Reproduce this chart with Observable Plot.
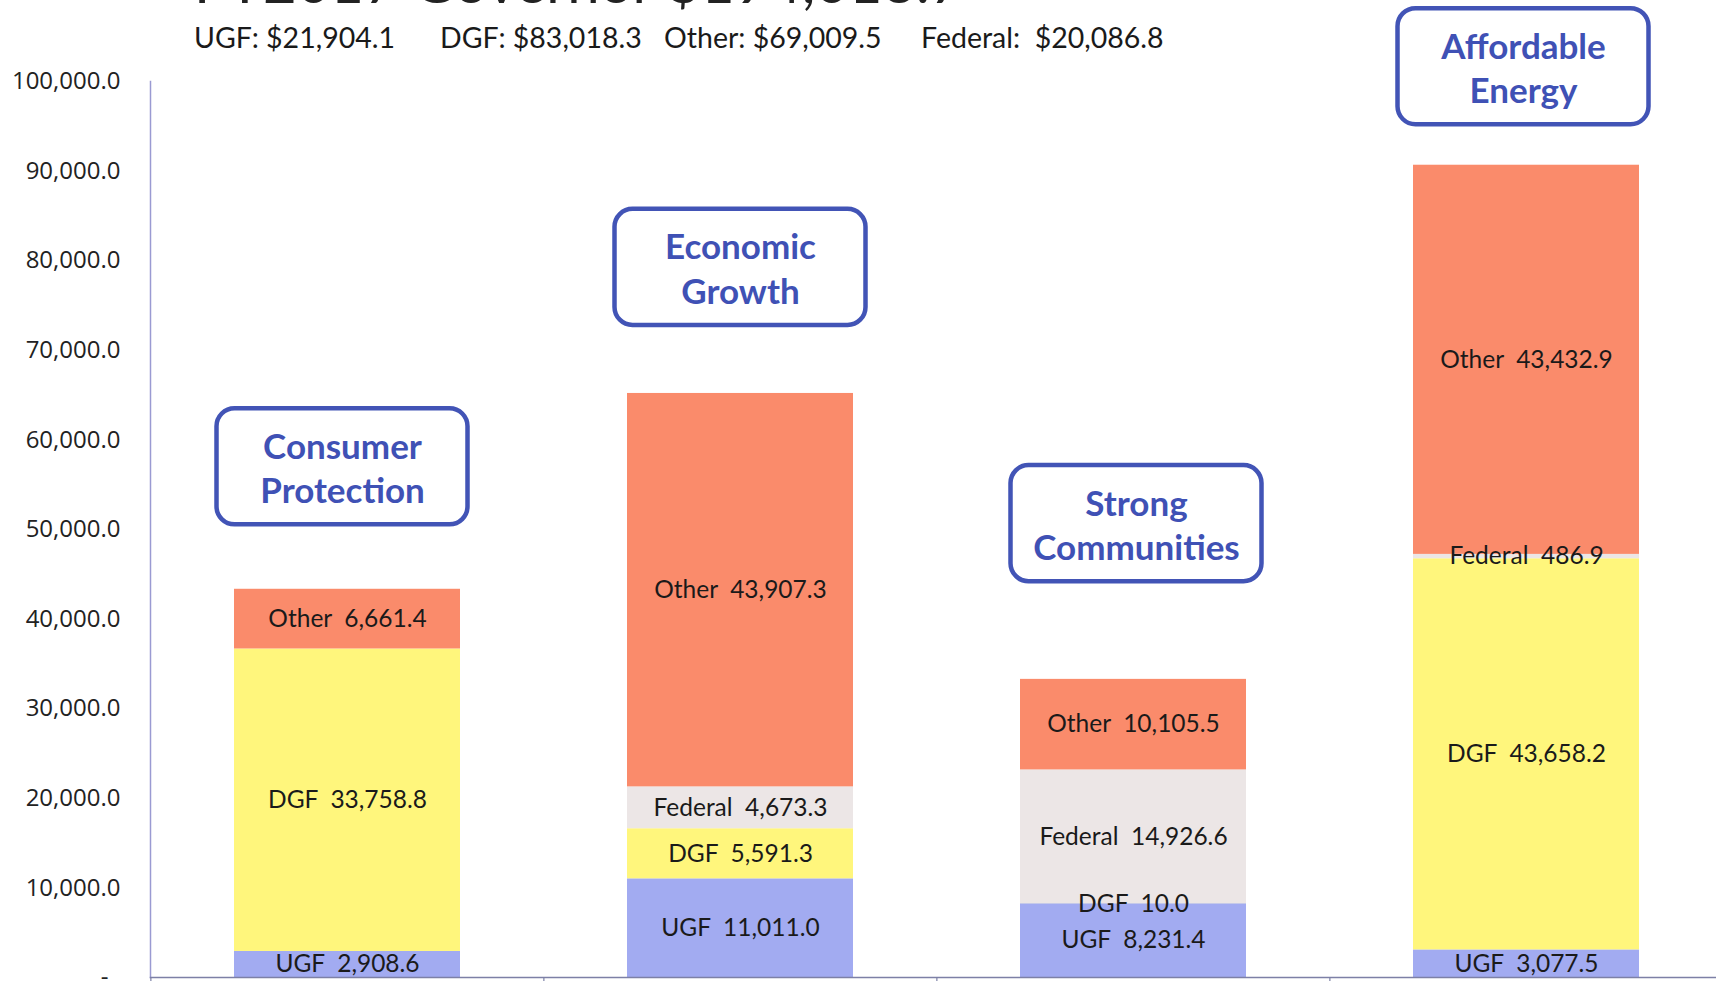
<!DOCTYPE html>
<html>
<head>
<meta charset="utf-8">
<script src="https://cdn.jsdelivr.net/npm/d3@7"></script>
<script src="https://cdn.jsdelivr.net/npm/@observablehq/plot@0.6"></script>
<style>
  html, body { margin: 0; padding: 0; background: #fff; overflow: hidden; }
  #wrap { position: relative; width: 1716px; height: 981px; overflow: hidden; background: #fff; }
  #title { position: absolute; left: 194px; top: -48px; font-family: Lato, sans-serif; font-size: 58px; line-height: 58px; color: #222; white-space: pre; }
  .total { position: absolute; top: 23px; font-family: Lato, sans-serif; font-size: 28.5px; line-height: 28px; color: #1a1a1a; white-space: pre; }
  #chart { position: absolute; left: 0; top: 0; }
  #chart svg { max-width: none !important; }
</style>
</head>
<body>
<div id="wrap">
  <div id="chart"></div>
  <div id="title"></div>
  <div id="totals"></div>
</div>
<script>
// ---- data ----
const categories = ["Consumer Protection", "Economic Growth", "Strong Communities", "Affordable Energy"];
const categoryLines = [["Consumer", "Protection"], ["Economic", "Growth"], ["Strong", "Communities"], ["Affordable", "Energy"]];
const seriesNames = ["UGF", "DGF", "Federal", "Other"];
const ugf = [2908.6, 11011.0, 8231.4, 3077.5];
const dgf = [33758.8, 5591.3, 10.0, 43658.2];
const federal = [0, 4673.3, 14926.6, 486.9];
const other = [6661.4, 43907.3, 10105.5, 43432.9];
const totalNames = ["UGF:", "DGF:", "Other:", "Federal: "];
const totalValues = [21904.1, 83018.3, 69009.5, 20086.8];
const titleText = "FY2017 Governor $194,018.7";
const yTicks = d3.range(0, 100001, 10000);
const seriesColors = ["#A2ABF1", "#FFF67C", "#ECE6E6", "#FA8B6B"];

// ---- build tables ----
const seriesValues = [ugf, dgf, federal, other];
const rows = [];
categories.forEach((c, i) => {
  seriesNames.forEach((s, j) => {
    const v = seriesValues[j][i];
    if (v > 0) rows.push({cat: c, series: s, value: v});
  });
});

// annotation boxes (value-space centre of each label box)
const boxCentre = [57000, 79250, 50650, 101650];
const boxHalf = 6480;
const boxShift = [-5, 0, 3, -3];
const boxes = categories.map((c, i) => ({cat: c, lines: categoryLines[i].join("\n"), c: boxCentre[i], dx: boxShift[i]}));

const fmt1 = d3.format(",.1f");

// ---- header ----
document.getElementById("title").textContent = titleText;
const totalsLeft = [194, 440, 664, 921];
const totalsEl = document.getElementById("totals");
totalNames.forEach((n, i) => {
  const s = document.createElement("span");
  s.className = "total";
  s.style.left = totalsLeft[i] + "px";
  s.textContent = n + " $" + fmt1(totalValues[i]);
  totalsEl.appendChild(s);
});

// ---- chart ----
const W = 1723, ML = 150, MR = 0;
const step = (W - ML - MR) / categories.length;

const boxMarks = boxes.flatMap(b => [
  Plot.barY([b], {
    x: "cat", y1: d => d.c - boxHalf, y2: d => d.c + boxHalf,
    fill: "white", stroke: "#4254B6", strokeWidth: 4.5, rx: 18,
    insetLeft: -12.5 + b.dx, insetRight: -12.5 - b.dx
  }),
  Plot.text([b], {
    x: "cat", y: "c", text: "lines", dx: b.dx,
    fontSize: 35, fontWeight: "bold", fill: "#3F51B5", lineHeight: 1.26
  })
]);

const chart = Plot.plot({
  width: W,
  height: 989,
  marginTop: 81,
  marginBottom: 12,
  marginLeft: ML,
  marginRight: MR,
  style: {fontFamily: "Lato, sans-serif", background: "transparent", overflow: "visible", maxWidth: "none"},
  x: {domain: categories, paddingInner: 0.425, paddingOuter: 0.2125, label: null},
  y: {domain: [0, 100000], label: null},
  color: {domain: seriesNames, range: seriesColors},
  marks: [
    Plot.barY(rows, {x: "cat", y: "value", fill: "series", order: seriesNames}),
    Plot.text(rows, Plot.stackY({
      x: "cat", y: "value", z: "series", order: seriesNames,
      text: d => `${d.series}\u00a0 ${fmt1(d.value)}`,
      fontSize: 24.5, fill: "#1a1a1a"
    })),
    Plot.frame({anchor: "left", stroke: "#9a9ad2", strokeWidth: 1.5}),
    Plot.frame({anchor: "bottom", stroke: "#7d80a6", strokeWidth: 1.5}),
    Plot.axisX({tickSize: 8, tickFormat: () => "", dx: -step / 2, stroke: "#7d80a6", strokeWidth: 1.2, label: null}),
    Plot.axisY({
      ticks: yTicks, tickSize: 0, tickPadding: 30,
      tickFormat: d => d === 0 ? "-\u2002" : fmt1(d),
      fontSize: 24, fontFamily: "Open Sans", fill: "#222", label: null
    }),
    ...boxMarks
  ]
});
document.getElementById("chart").appendChild(chart);
</script>
</body>
</html>
